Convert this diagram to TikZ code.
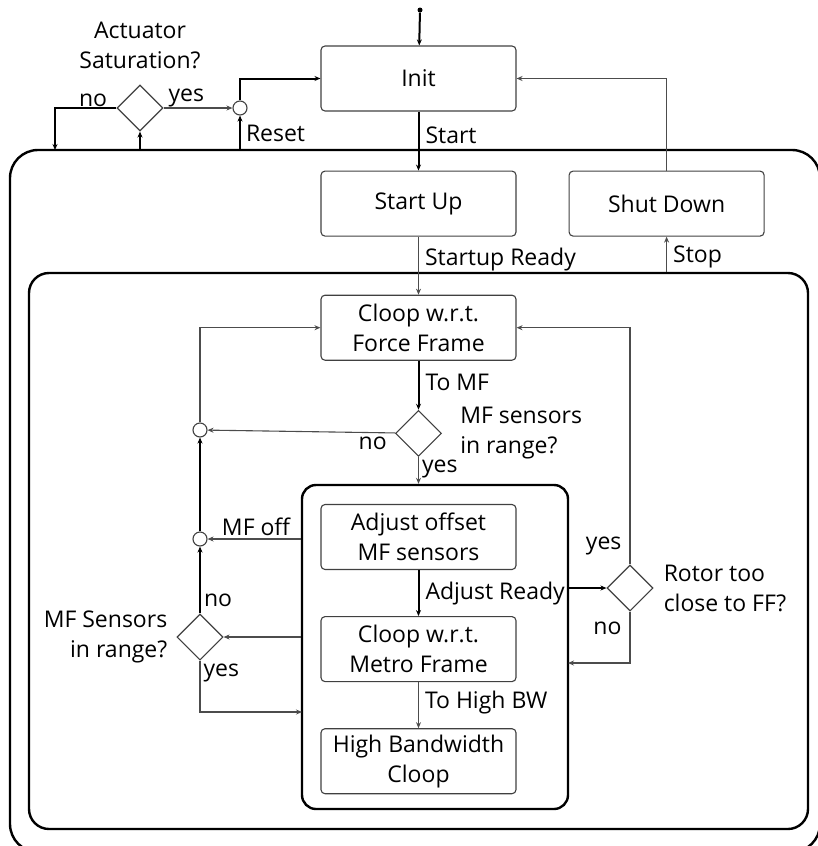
\documentclass[tikz,border=0pt]{standalone}
\usepackage{fontspec}
\setmainfont{Open Sans}
\usetikzlibrary{arrows.meta,positioning,shapes.geometric}

\newcommand{\dfont}{\fontsize{23}{30}\selectfont}

\begin{document}
\begin{tikzpicture}[
    x=1pt, y=-1pt,
    node distance=58pt,
    state/.style={draw=black!75, rounded corners=4pt, line width=1.1pt, align=center, minimum width=195pt, minimum height=65pt, font=\dfont},
    frame/.style={draw, line width=2.4pt, inner sep=0pt},
    query/.style={diamond, draw=black!75, line width=1.1pt, minimum width=46pt, minimum height=46pt, inner sep=0pt},
    junc/.style={circle, draw=black!75, line width=1.1pt, minimum size=14pt, inner sep=0pt},
    lbl/.style={font=\dfont, inner sep=3pt},
    flow/.style={-{Stealth[length=6pt,width=5pt]}, line width=1.1pt, draw=black!70},
    heavy/.style={-{Stealth[length=6pt,width=5pt]}, line width=2pt}
]
\useasboundingbox (0,0) rectangle (818,846);
\clip (0,0) rectangle (818,846);

% nested superstates
\node[frame, rounded corners=28pt, minimum width=810pt, minimum height=702pt] (outer) at (415,501) {};
\node[frame, rounded corners=20pt, minimum width=779pt, minimum height=556pt] (mid) at (418.5,551) {};
\node[frame, rounded corners=14pt, minimum width=266pt, minimum height=324pt] (inner) at (435,647) {};

% states
\node[state] (init) at (418.5,78.5) {Init};
\node[state, below=59pt of init] (start) {Start Up};
\node[state, right=52pt of start] (shut) {Shut Down};
\node[state, below=58pt of start] (cff) {Cloop w.r.t.\\Force Frame};
\node[state] (adj) at (418.5,537) {Adjust offset\\MF sensors};
\node[state, below=46pt of adj] (cmf) {Cloop w.r.t.\\Metro Frame};
\node[state, below=46pt of cmf] (hbw) {High Bandwidth\\Cloop};

% decisions and junctions
\node[query] (act) at (140,108) {};
\node[junc] (rst) at (240,108) {};
\node[query, below=49pt of cff] (mfq) {};
\node[junc] (j1) at (200,430) {};
\node[junc] (j2) at (200,539) {};
\node[query] (ld) at (200,637) {};
\node[query] (rot) at (630,588) {};
\node[circle, fill, inner sep=0pt, minimum size=5pt] (entry) at (420,10) {};

\node[lbl, above=12pt of act, align=center] (actq) {Actuator\\Saturation?};
\node[lbl, right=15pt of mfq, align=left] (mfqt) {MF sensors\\in range?};
\node[lbl, left=6pt of ld, align=right] (ldt) {MF Sensors\\in range?};
\node[lbl, right=7pt of rot, align=left] (rott) {Rotor too\\close to FF?};

\coordinate (actdrop) at (55,150);
\coordinate (ldin) at (302,712);
\coordinate (rotin) at (568,663);

% transitions
\draw[heavy] (entry) -- (init);
\draw[heavy] (init) -- node[lbl, right=3pt, pos=.4] {Start} (start);
\draw[flow] (start) -- node[lbl, right=3pt, pos=.4] {Startup Ready} (cff);
\draw[flow] (shut.south |- mid.north) -- node[lbl, right=3pt, pos=.42] {Stop} (shut);
\draw[flow] (shut) |- (init);
\draw[heavy] (rst) |- (init);
\draw[heavy] (rst.south |- outer.north) -- node[lbl, right=2pt, pos=.45] {Reset} (rst);
\draw[heavy] (act.south |- outer.north) -- (act);
\draw[flow] (act) -- node[lbl, above, pos=.33, yshift=-3pt] {yes} (rst);
\draw[heavy] (act) -| node[lbl, above, pos=.19, yshift=-3pt] {no} (actdrop);

\draw[heavy] (cff) -- node[lbl, right=3pt, pos=.45] {To MF} (mfq);
\draw[flow] (mfq) -- node[lbl, anchor=north east, pos=0, xshift=-5pt] {no} (j1);
\draw[flow] (mfq) -- node[lbl, right, pos=.45] {yes} (mfq.south |- inner.north);
\draw[flow] (j1) |- (cff);
\draw[flow] (inner.west |- j2) -- node[lbl, above, pos=.48] {MF off} (j2);
\draw[heavy] (j2) -- (j1);
\draw[heavy] (ld) -- node[lbl, right, pos=.2] {no} (j2);
\draw[flow] (inner.west |- ld) -- (ld);
\draw[flow] (ld) |- node[lbl, right, pos=.12] {yes} (ldin);

\draw[heavy] (adj) -- node[lbl, right=3pt] {Adjust Ready} (cmf);
\draw[flow] (cmf) -- node[lbl, right=3pt, pos=.45] {To High BW} (hbw);
\draw[heavy] (inner.east |- rot) -- (rot);
\draw[flow] (rot) |- node[lbl, left=5pt, pos=.04] {yes} (cff);
\draw[flow] (rot) |- node[lbl, left=5pt, pos=.16] {no} (rotin);
\end{tikzpicture}
\end{document}
